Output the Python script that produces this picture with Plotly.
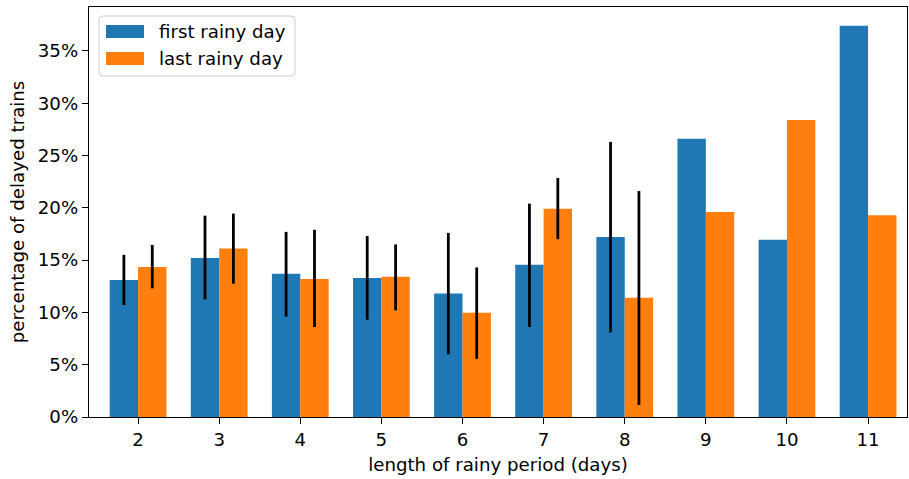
import plotly.graph_objects as go

# ---- data ----
lengths = [2, 3, 4, 5, 6, 7, 8, 9, 10, 11]
first_rainy = [13.1, 15.2, 13.7, 13.3, 11.8, 14.55, 17.2, 26.6, 16.95, 37.4]
last_rainy = [14.35, 16.1, 13.2, 13.4, 9.97, 19.9, 11.4, 19.6, 28.4, 19.3]
# upper / lower ends of the error bars (None = no error bar)
first_hi = [15.5, 19.25, 17.7, 17.3, 17.6, 20.4, 26.3, None, None, None]
first_lo = [10.7, 11.25, 9.6, 9.3, 6.0, 8.6, 8.1, None, None, None]
last_hi = [16.45, 19.45, 17.9, 16.5, 14.3, 22.85, 21.6, None, None, None]
last_lo = [12.3, 12.75, 8.6, 10.2, 5.55, 17.0, 1.15, None, None, None]
y_ticks = [0, 5, 10, 15, 20, 25, 30, 35]

BLUE = "#1f77b4"
ORANGE = "#ff7f0e"
FONT = "DejaVu Sans"
FS = 18.2


def plus(vals, hi):
    return [(h - v) if h is not None else None for v, h in zip(vals, hi)]


def minus(vals, lo):
    return [(v - l) if l is not None else None for v, l in zip(vals, lo)]


def err(vals, hi, lo):
    return dict(type="data", symmetric=False,
                array=plus(vals, hi), arrayminus=minus(vals, lo),
                color="black", thickness=2.8, width=0, visible=True)


fig = go.Figure()
fig.add_trace(go.Bar(x=lengths, y=first_rainy, name="first rainy day",
                     marker=dict(color=BLUE, line=dict(width=0)),
                     error_y=err(first_rainy, first_hi, first_lo)))
fig.add_trace(go.Bar(x=lengths, y=last_rainy, name="last rainy day",
                     marker=dict(color=ORANGE, line=dict(width=0)),
                     error_y=err(last_rainy, last_hi, last_lo)))

W, H = 909, 479
L, R, T, B = 89, 2, 7, 62
PW, PH = W - L - R, H - T - B


def px(x):
    return (x - L) / PW


def py(y):
    return (H - B - y) / PH


# legend drawn manually (matplotlib style: wide patches, rounded frame)
shapes = []
x0, x1, y0, y1, r = 99, 295, 16, 76, 4
rx, ry = r / PW, r / PH
path = (f"M {px(x0)+rx},{py(y0)} L {px(x1)-rx},{py(y0)} Q {px(x1)},{py(y0)} {px(x1)},{py(y0)-ry} "
        f"L {px(x1)},{py(y1)+ry} Q {px(x1)},{py(y1)} {px(x1)-rx},{py(y1)} "
        f"L {px(x0)+rx},{py(y1)} Q {px(x0)},{py(y1)} {px(x0)},{py(y1)+ry} "
        f"L {px(x0)},{py(y0)-ry} Q {px(x0)},{py(y0)} {px(x0)+rx},{py(y0)} Z")
shapes.append(dict(type="path", xref="paper", yref="paper", path=path,
                   fillcolor="rgba(255,255,255,0.8)", line=dict(color="#cccccc", width=1)))
annotations = []
for name, col, (ya, yb) in [("first rainy day", BLUE, (25, 38)),
                            ("last rainy day", ORANGE, (52, 65))]:
    shapes.append(dict(type="rect", xref="paper", yref="paper",
                       x0=px(106), x1=px(144), y0=py(yb), y1=py(ya),
                       fillcolor=col, line=dict(width=0)))
    annotations.append(dict(text=name, xref="paper", yref="paper",
                            x=px(157), y=py((ya + yb) / 2), xanchor="left", yanchor="middle",
                            showarrow=False, font=dict(family=FONT, size=FS, color="black")))

fig.update_layout(
    width=W, height=H,
    margin=dict(l=L, r=R, t=T, b=B),
    paper_bgcolor="white", plot_bgcolor="white",
    barmode="group", bargap=0.3, bargroupgap=0,
    showlegend=False,
    font=dict(family=FONT, size=FS, color="black"),
    shapes=shapes, annotations=annotations,
)
fig.update_xaxes(
    range=[1.395, 11.48], tickmode="array", tickvals=lengths,
    ticktext=[str(v) for v in lengths],
    showgrid=False, zeroline=False,
    showline=True, linecolor="black", linewidth=1.3, mirror=True,
    ticks="outside", ticklen=6, tickwidth=1.3, tickcolor="black",
    tickfont=dict(family=FONT, size=FS, color="black"),
    title=dict(text="length of rainy period (days)", standoff=9,
               font=dict(family=FONT, size=FS, color="black")),
)
fig.update_yaxes(
    range=[0, 39.2], tickmode="array", tickvals=y_ticks,
    ticktext=[f"{v}%" for v in y_ticks],
    showgrid=False, zeroline=False,
    showline=True, linecolor="black", linewidth=1.3, mirror=True,
    ticks="outside", ticklen=6, tickwidth=1.3, tickcolor="black",
    tickfont=dict(family=FONT, size=FS, color="black"),
    title=dict(text="percentage of delayed trains", standoff=8,
               font=dict(family=FONT, size=FS, color="black")),
)

fig.write_html("out.html")
